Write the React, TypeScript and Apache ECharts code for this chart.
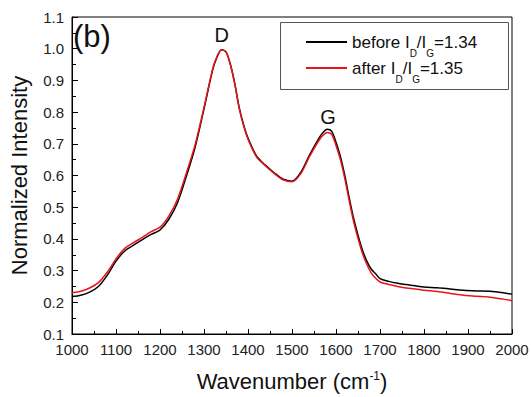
import React, { useEffect, useRef } from "react";
import * as echarts from "echarts";

const wavenumbers = [
  1000, 1020, 1040, 1060, 1080, 1100, 1120, 1140, 1160, 1180, 1200, 1220, 1240, 1260, 1280, 1300,
  1320, 1330, 1340, 1350, 1360, 1370, 1380, 1390, 1400, 1420, 1440, 1460, 1480, 1500, 1520, 1540,
  1560, 1570, 1580, 1590, 1600, 1610, 1620, 1630, 1640, 1650, 1660, 1670, 1680, 1690, 1700, 1720,
  1740, 1760, 1780, 1800, 1830, 1860, 1890, 1920, 1950, 1980, 2000,
];

const beforeValues = [
  0.218, 0.222, 0.232, 0.25, 0.285, 0.33, 0.362, 0.38, 0.398, 0.414, 0.428, 0.462, 0.515, 0.598, 0.69, 0.81,
  0.935, 0.975, 0.997, 0.99, 0.95, 0.89, 0.815, 0.76, 0.718, 0.66, 0.632, 0.608, 0.588, 0.582, 0.61, 0.665,
  0.715, 0.735, 0.746, 0.74, 0.705, 0.66, 0.6, 0.53, 0.465, 0.412, 0.365, 0.33, 0.305, 0.29, 0.275, 0.266,
  0.26, 0.256, 0.252, 0.248, 0.246, 0.242, 0.238, 0.236, 0.235, 0.23, 0.225,
];

const afterValues = [
  0.23, 0.235, 0.245, 0.262, 0.295, 0.337, 0.37, 0.388, 0.405, 0.423, 0.437, 0.472, 0.526, 0.608, 0.698, 0.815,
  0.937, 0.977, 0.997, 0.99, 0.95, 0.888, 0.812, 0.757, 0.715, 0.657, 0.63, 0.606, 0.586, 0.58, 0.606, 0.66,
  0.708, 0.726, 0.736, 0.73, 0.695, 0.65, 0.59, 0.52, 0.455, 0.402, 0.355, 0.32, 0.293, 0.276, 0.264, 0.256,
  0.25, 0.245, 0.242, 0.238, 0.234, 0.228, 0.222, 0.219, 0.216, 0.21, 0.205,
];

const seriesNames = ["before", "after"];
const legendLabels: Record<string, string> = {
  before: "before I{sub|D}/I{sub|G}=1.34",
  after: "after I{sub|D}/I{sub|G}=1.35",
};
const peakLabels = [
  { text: "D", x: 1342, y: 1.045 },
  { text: "G", x: 1583, y: 0.795 },
];

const FONT = "Liberation Sans, Arial, sans-serif";

export default function App() {
  const ref = useRef<HTMLDivElement>(null);
  useEffect(() => {
    if (!ref.current) return;
    const chart = echarts.init(ref.current, undefined, { renderer: "svg" });
    const gridLeft = 71, gridTop = 17, gridRight = 20, gridBottom = 51;
    const W = 532, H = 397;
    const pw = W - gridLeft - gridRight;
    const ph = H - gridTop - gridBottom;
    const toPx = (x: number, y: number) => [
      gridLeft + ((x - 1000) / 1000) * pw,
      gridTop + ((1.1 - y) / 1.0) * ph,
    ];
    chart.setOption({
      animation: false,
      backgroundColor: "#fff",
      textStyle: { fontFamily: FONT },
      grid: {
        left: gridLeft,
        top: gridTop,
        right: gridRight,
        bottom: gridBottom,
        show: true,
        borderColor: "#000",
        borderWidth: 1,
      },
      xAxis: {
        type: "value",
        min: 1000,
        max: 2000,
        interval: 100,
        axisLine: { show: true, onZero: false, lineStyle: { color: "#000", width: 1 } },
        axisTick: { show: true, inside: true, length: 5, lineStyle: { color: "#000" } },
        minorTick: { show: true, splitNumber: 2, length: 3, lineStyle: { color: "#000" } },
        splitLine: { show: false },
        axisLabel: {
          color: "#222",
          fontSize: 15,
          fontFamily: FONT,
          margin: 8,
          formatter: (v: number) => String(Math.round(v)),
        },
        name: "Wavenumber (cm{sup|-1})",
        nameLocation: "middle",
        nameGap: 36,
        nameTextStyle: {
          color: "#111",
          fontSize: 22,
          fontFamily: FONT,
          rich: {
            sup: { fontSize: 12, verticalAlign: "top", fontFamily: FONT, color: "#111" },
          },
        },
      },
      yAxis: {
        type: "value",
        min: 0.1,
        max: 1.1,
        interval: 0.1,
        axisLine: { show: true, onZero: false, lineStyle: { color: "#000", width: 1 } },
        axisTick: { show: true, inside: true, length: 6, lineStyle: { color: "#000" } },
        minorTick: { show: true, splitNumber: 2, length: 4, lineStyle: { color: "#000" } },
        splitLine: { show: false },
        axisLabel: {
          color: "#222",
          fontSize: 15,
          fontFamily: FONT,
          margin: 8,
          formatter: (v: number) => v.toFixed(1),
        },
        name: "Normalized Intensity",
        nameLocation: "middle",
        nameGap: 42,
        nameTextStyle: { color: "#111", fontSize: 22, fontFamily: FONT },
      },
      legend: {
        orient: "vertical",
        left: 301,
        top: 21,
        itemWidth: 41,
        itemHeight: 2,
        itemGap: -6,
        icon: "rect",
        data: seriesNames,
        formatter: (name: string) => legendLabels[name],
        textStyle: {
          fontSize: 17,
          color: "#111",
          fontFamily: FONT,
          lineHeight: 32,
          rich: {
            sub: {
              fontSize: 10,
              verticalAlign: "bottom",
              lineHeight: 32,
              padding: [14, 0, 0, 0],
              color: "#111",
              fontFamily: FONT,
            },
          },
        },
      },
      graphic: [
        {
          type: "rect",
          shape: { x: 280.5, y: 22.5, width: 228, height: 67 },
          style: { fill: "none", stroke: "#555", lineWidth: 1 },
          silent: true,
        },
        {
          type: "text",
          left: 73,
          top: 21,
          style: { text: "(b)", fontSize: 31, fontFamily: FONT, fill: "#111" },
        },
        ...peakLabels.map((p) => {
          const [px, py] = toPx(p.x, p.y);
          return {
            type: "text",
            x: px,
            y: py,
            style: {
              text: p.text,
              fontSize: 20,
              fontFamily: FONT,
              fill: "#111",
              align: "center",
              verticalAlign: "middle",
            },
          };
        }),
      ],
      series: [
        {
          name: "before",
          type: "line",
          symbol: "none",
          smooth: 0.3,
          color: "#000",
          lineStyle: { color: "#000", width: 1.5 },
          data: wavenumbers.map((x, i) => [x, beforeValues[i]]),
        },
        {
          name: "after",
          type: "line",
          symbol: "none",
          smooth: 0.3,
          color: "#e8141b",
          lineStyle: { color: "#e8141b", width: 1.5 },
          data: wavenumbers.map((x, i) => [x, afterValues[i]]),
        },
      ],
    });
    return () => chart.dispose();
  }, []);
  return (
    <div
      ref={ref}
      style={{ position: "fixed", left: 0, top: 0, width: 532, height: 397 }}
    />
  );
}
